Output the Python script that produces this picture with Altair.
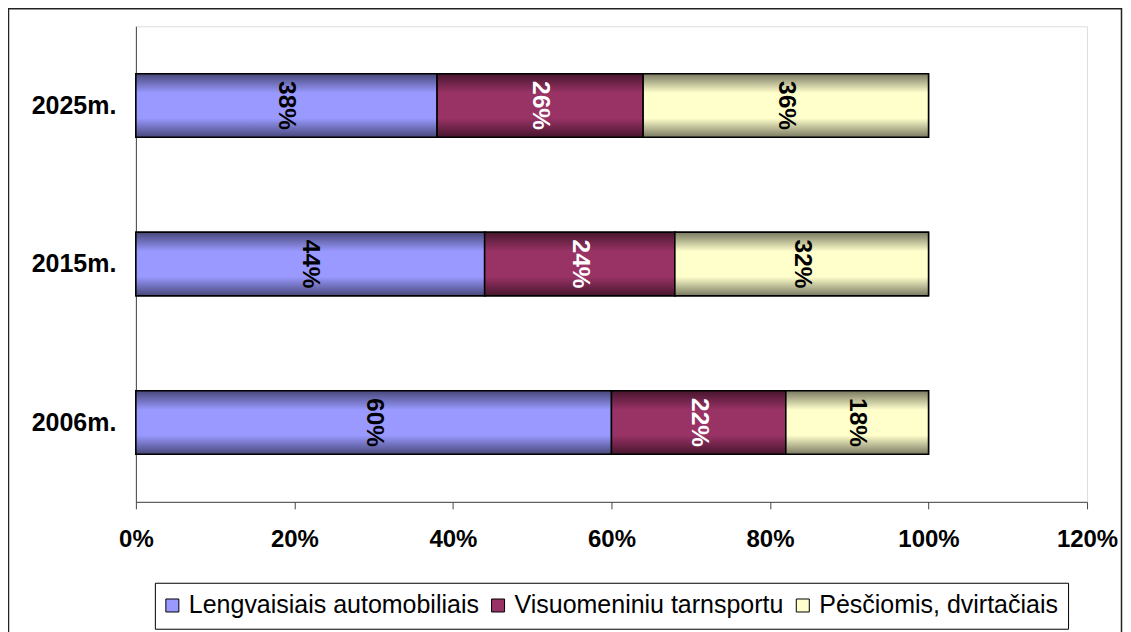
import altair as alt
import pandas as pd

years = ["2025m.", "2015m.", "2006m."]
series = ["Lengvaisiais automobiliais", "Visuomeniniu tarnsportu", "Pėsčiomis, dvirtačiais"]
car = [0.38, 0.44, 0.60]
public = [0.26, 0.24, 0.22]
walk = [0.36, 0.32, 0.18]
x_ticks = [0, 0.2, 0.4, 0.6, 0.8, 1.0, 1.2]

mid_colors = ["#9999ff", "#993366", "#ffffcc"]
edge_colors = ["#48487a", "#48162e", "#7a7a62"]
label_colors = ["#000000", "#ffffff", "#000000"]

rows = []
for i, y in enumerate(years):
    for k, vals in enumerate([car, public, walk]):
        rows.append({"year": y, "series": series[k], "order": k, "value": vals[i]})
df = pd.DataFrame(rows)

FONT = "Liberation Sans"

base = alt.Chart(df).transform_stack(
    stack="value", groupby=["year"], as_=["v0", "v1"],
    sort=[alt.SortField("order", order="ascending")]
).transform_calculate(mid="(datum.v0 + datum.v1) / 2")

x_axis = alt.Axis(values=x_ticks, format=".0%", grid=False, domainColor="#444",
                  tickColor="#444", tickSize=7, labelFontSize=24, labelFont=FONT,
                  labelFontWeight="bold", labelColor="#000", labelPadding=19,
                  labelFlush=False, labelOverlap=False, labelBound=False)
x_scale = alt.Scale(domain=[0, 1.2], nice=False, zero=True)
y_enc = alt.Y("year:N", sort=years, title=None,
              scale=alt.Scale(paddingInner=0.6, paddingOuter=0.3),
              axis=alt.Axis(ticks=False, grid=False, domainColor="#444",
                            labelFontSize=25, labelFont=FONT, labelFontWeight="bold",
                            labelColor="#000", labelPadding=20))


def xenc(field):
    return alt.X(field, scale=x_scale, axis=x_axis, title=None)


solid = base.mark_bar(stroke="#000", strokeWidth=1.5).encode(
    x=xenc("v0:Q"), x2=alt.X2("v1:Q"), y=y_enc,
    color=alt.Color("series:N", scale=alt.Scale(domain=series, range=mid_colors),
                    legend=alt.Legend(orient="none", legendX=19, legendY=557,
                                      direction="horizontal", title=None,
                                      strokeColor="#000", fillColor="#fff",
                                      padding=10, symbolType="square", symbolSize=169,
                                      symbolStrokeColor="#000", symbolStrokeWidth=1,
                                      symbolOffset=-5,
                                      labelFontSize=25, labelFont=FONT, labelColor="#000",
                                      columnPadding=10, labelOffset=4, labelLimit=500)),
)

layers = [solid]
for k, s in enumerate(series):
    grad = alt.LinearGradient(
        gradient="linear", x1=0, x2=0, y1=0, y2=1,
        stops=[alt.GradientStop(color=edge_colors[k], offset=0),
               alt.GradientStop(color=mid_colors[k], offset=0.3),
               alt.GradientStop(color=mid_colors[k], offset=0.7),
               alt.GradientStop(color=edge_colors[k], offset=1)])
    layers.append(
        base.transform_filter(alt.datum.series == s)
        .mark_bar(fill=grad, stroke="#000", strokeWidth=1.5)
        .encode(x=xenc("v0:Q"), x2=alt.X2("v1:Q"), y=y_enc)
    )
for k, s in enumerate(series):
    layers.append(
        base.transform_filter(alt.datum.series == s)
        .mark_text(angle=90, font=FONT, fontSize=24.5, fontWeight="bold",
                   color=label_colors[k], align="center", baseline="middle")
        .encode(x=xenc("mid:Q"), y=y_enc, text=alt.Text("value:Q", format=".0%"))
    )

frame = alt.Chart(alt.InlineData(values=[{"a": 1}])).mark_rect(
    fillOpacity=0, stroke="#222", strokeWidth=1.5
).encode(x=alt.value(-127.5), x2=alt.value(986.5), y=alt.value(-17.5), y2=alt.value(640))
layers.append(frame)

chart = alt.layer(*layers).properties(
    width=952, height=476,
    autosize=alt.AutoSizeParams(type="none"),
    padding={"left": 128, "top": 18, "right": 36, "bottom": 130},
).configure_view(stroke=None).configure(background="#ffffff")

chart.save("out.html", embed_options={"renderer": "svg", "actions": False})
